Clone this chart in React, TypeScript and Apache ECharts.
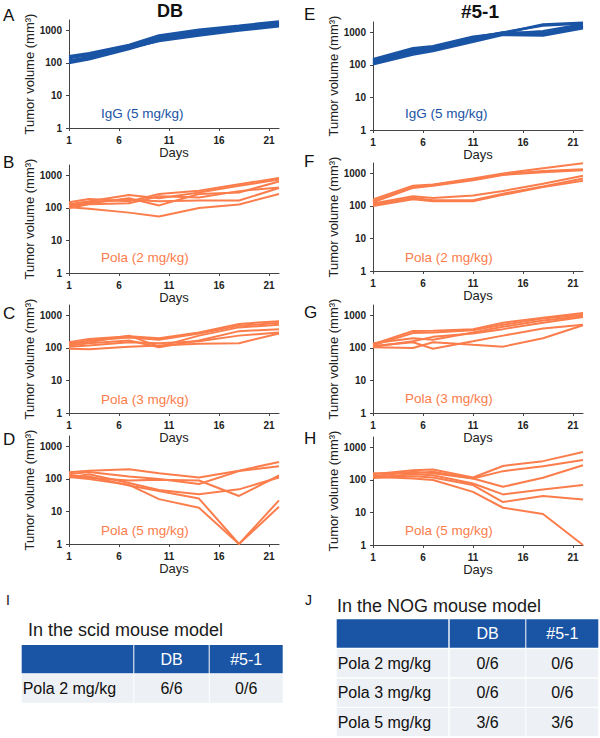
import React, { useEffect, useRef } from "react";
import * as echarts from "echarts";

// Measurement days for each clone
const DAYS_DB = [1, 3, 7, 10, 14, 18, 22];
const DAYS_51 = [1, 5, 7, 11, 14, 18, 22];

const X_TICKS = [1, 6, 11, 16, 21];
const Y_TICKS = [1, 10, 100, 1000];

// Tumor volumes (mm³), one row per mouse
const DB_IGG = [
  [160, 200, 360, 700, 1050, 1400, 1900],
  [140, 185, 330, 620, 1000, 1300, 1750],
  [120, 150, 300, 560, 880, 1200, 1600],
  [100, 130, 270, 500, 780, 1100, 1450],
  [110, 135, 290, 470, 700, 1000, 1350],
  [150, 170, 320, 600, 1000, 1250, 1650],
];
const DB_POLA2 = [
  [150, 190, 160, 270, 340, 540, 830],
  [130, 160, 250, 200, 300, 480, 750],
  [110, 140, 200, 120, 270, 300, 650],
  [100, 130, 140, 230, 210, 330, 430],
  [120, 150, 180, 160, 170, 170, 410],
  [105, 95, 72, 55, 100, 128, 270],
];
const DB_POLA3 = [
  [150, 190, 230, 200, 300, 550, 670],
  [130, 170, 210, 180, 280, 480, 600],
  [140, 150, 240, 110, 240, 430, 520],
  [120, 140, 170, 105, 170, 330, 380],
  [110, 120, 150, 140, 160, 240, 300],
  [95, 92, 110, 120, 135, 140, 280],
];
const DB_POLA5 = [
  [160, 180, 200, 150, 111, 180, 335],
  [140, 163, 120, 100, 70, 175, 245],
  [120, 110, 90, 95, 90, 30, 128],
  [110, 140, 75, 46, 34, 48, 111],
  [125, 120, 63, 43, 25, 1, 22],
  [115, 99, 66, 24, 13, 1, 14],
];
const C51_IGG = [
  [150, 330, 380, 740, 950, 1750, 2000],
  [130, 300, 360, 700, 1000, 1650, 1900],
  [120, 270, 330, 620, 900, 1100, 1800],
  [110, 240, 290, 560, 900, 850, 1500],
  [105, 210, 270, 520, 850, 800, 1350],
  [140, 280, 340, 650, 1000, 950, 1600],
];
const C51_POLA2 = [
  [160, 420, 460, 700, 1000, 1450, 2050],
  [140, 380, 440, 650, 950, 1200, 1350],
  [130, 360, 420, 620, 900, 1100, 1250],
  [120, 200, 175, 210, 290, 480, 850],
  [110, 180, 150, 150, 240, 400, 700],
  [100, 160, 140, 140, 220, 380, 600],
];
const C51_POLA3 = [
  [130, 335, 340, 380, 600, 850, 1200],
  [120, 290, 300, 350, 520, 800, 1050],
  [140, 200, 180, 300, 450, 700, 950],
  [110, 160, 220, 280, 380, 600, 900],
  [115, 150, 95, 160, 240, 400, 520],
  [105, 100, 150, 125, 110, 200, 500],
];
const C51_POLA5 = [
  [150, 200, 210, 119, 270, 380, 730],
  [130, 180, 160, 111, 187, 265, 410],
  [160, 160, 180, 111, 62, 117, 285],
  [120, 150, 140, 78, 36, 51, 70],
  [115, 130, 120, 70, 21, 32, 25],
  [125, 111, 100, 43, 14, 9, 1],
];

const TREATMENTS = ["IgG (5 mg/kg)", "Pola (2 mg/kg)", "Pola (3 mg/kg)", "Pola (5 mg/kg)"];
const PANEL_LETTERS = ["A", "B", "C", "D", "E", "F", "G", "H"];
const CLONES = ["DB", "#5-1"];

// Complete response tables
const SCID_HEADER = ["", "DB", "#5-1"];
const SCID_ROWS = [["Pola 2 mg/kg", "6/6", "0/6"]];
const NOG_HEADER = ["", "DB", "#5-1"];
const NOG_ROWS = [
  ["Pola 2 mg/kg", "0/6", "0/6"],
  ["Pola 3 mg/kg", "0/6", "0/6"],
  ["Pola 5 mg/kg", "3/6", "3/6"],
];

const BLUE = "#1a54a4";
const ORANGE = "#fb7d4c";
const FONT = "Liberation Sans, Arial, sans-serif";

export default function App() {
  const ref = useRef<HTMLDivElement>(null);

  useEffect(() => {
    if (!ref.current) return;
    const chart = echarts.init(ref.current, null, { renderer: "svg" });

    const panels = [
      { days: DAYS_DB, lines: DB_IGG, treat: 0 },
      { days: DAYS_DB, lines: DB_POLA2, treat: 1 },
      { days: DAYS_DB, lines: DB_POLA3, treat: 2 },
      { days: DAYS_DB, lines: DB_POLA5, treat: 3 },
      { days: DAYS_51, lines: C51_IGG, treat: 0 },
      { days: DAYS_51, lines: C51_POLA2, treat: 1 },
      { days: DAYS_51, lines: C51_POLA3, treat: 2 },
      { days: DAYS_51, lines: C51_POLA5, treat: 3 },
    ];

    // grid placement of the eight small plots
    const layout = [
      { left: 69, top: 20, letterY: 15, treatY: 113 },
      { left: 69, top: 165, letterY: 162, treatY: 257 },
      { left: 69, top: 305, letterY: 313, treatY: 399 },
      { left: 69, top: 436, letterY: 439, treatY: 530 },
      { left: 373, top: 22, letterY: 14, treatY: 113 },
      { left: 373, top: 163, letterY: 161, treatY: 257 },
      { left: 373, top: 305, letterY: 312, treatY: 398 },
      { left: 373, top: 437, letterY: 438, treatY: 530 },
    ];
    const GW = 210;
    const GH = 108;

    const grids: any[] = [];
    const xAxes: any[] = [];
    const yAxes: any[] = [];
    const series: any[] = [];
    const graphics: any[] = [];

    const plain = (v: number) => String(Math.round(v));

    panels.forEach((p, i) => {
      const L = layout[i];
      const color = p.treat === 0 ? BLUE : ORANGE;
      grids.push({
        left: L.left,
        top: L.top,
        width: GW,
        height: GH,
        containLabel: false,
        outerBoundsMode: "none",
      });
      xAxes.push({
        type: "value",
        gridIndex: i,
        min: 1,
        max: 22,
        name: "Days",
        nameLocation: "middle",
        nameGap: 14,
        nameTextStyle: { fontSize: 13, color: "#222", fontFamily: FONT },
        axisLine: { show: true, lineStyle: { color: "#444", width: 1 } },
        axisTick: { show: true, length: 3, customValues: X_TICKS, lineStyle: { color: "#444" } },
        axisLabel: {
          customValues: X_TICKS,
          formatter: plain,
          fontSize: 10,
          fontWeight: "bold",
          color: "#222",
          fontFamily: FONT,
          margin: 7,
        },
        splitLine: { show: false },
      });
      yAxes.push({
        type: "log",
        logBase: 10,
        gridIndex: i,
        min: 1,
        max: 2100,
        name: "Tumor volume (mm³)",
        nameLocation: "middle",
        nameGap: 33,
        nameTextStyle: { fontSize: 13, color: "#222", fontFamily: FONT },
        axisLine: { show: true, lineStyle: { color: "#444", width: 1 } },
        axisTick: { show: true, length: 3, customValues: Y_TICKS, lineStyle: { color: "#444" } },
        axisLabel: {
          customValues: Y_TICKS,
          formatter: plain,
          fontSize: 10,
          fontWeight: "bold",
          color: "#222",
          fontFamily: FONT,
          margin: 7,
        },
        splitLine: { show: false },
      });
      p.lines.forEach((vals) => {
        series.push({
          type: "line",
          xAxisIndex: i,
          yAxisIndex: i,
          data: p.days.map((d, k) => [d, vals[k]]),
          symbol: "none",
          lineStyle: { color, width: p.treat === 0 ? 2.5 : 2 },
          itemStyle: { color },
          silent: true,
        });
      });
      graphics.push({
        type: "text",
        x: L.left === 69 ? 3 : 304,
        y: L.letterY,
        style: {
          text: PANEL_LETTERS[i],
          fontSize: 17,
          fontFamily: FONT,
          fill: "#111",
          align: "left",
          verticalAlign: "middle",
        },
      });
      graphics.push({
        type: "text",
        x: L.left + 32,
        y: L.treatY,
        style: {
          text: TREATMENTS[p.treat],
          fontSize: 13.5,
          fontFamily: FONT,
          fill: color,
          align: "left",
          verticalAlign: "middle",
        },
      });
    });

    // column titles
    graphics.push({
      type: "text",
      x: 170,
      y: 11,
      style: { text: CLONES[0], fontSize: 18, fontWeight: "bold", fontFamily: FONT, fill: "#111", align: "center", verticalAlign: "middle" },
    });
    graphics.push({
      type: "text",
      x: 480,
      y: 11,
      style: { text: CLONES[1], fontSize: 19, fontWeight: "bold", fontFamily: FONT, fill: "#111", align: "center", verticalAlign: "middle" },
    });

    // tables
    const addTable = (
      letter: string,
      letterX: number,
      title: string,
      titleX: number,
      titleY: number,
      header: string[],
      rows: string[][],
      cols: number[][],
      rowYs: number[][],
    ) => {
      graphics.push({
        type: "text",
        x: letterX,
        y: 600,
        style: { text: letter, fontSize: 14, fontFamily: FONT, fill: "#111", align: "left", verticalAlign: "middle" },
      });
      graphics.push({
        type: "text",
        x: titleX,
        y: titleY,
        style: { text: title, fontSize: 18, fontFamily: FONT, fill: "#1a1a1a", align: "left", verticalAlign: "middle" },
      });
      const allRows = [header, ...rows];
      allRows.forEach((row, r) => {
        const [y0, y1] = rowYs[r];
        cols.forEach(([x0, x1], c) => {
          graphics.push({
            type: "rect",
            shape: { x: x0, y: y0, width: x1 - x0, height: y1 - y0 },
            style: { fill: r === 0 ? "#1a55a5" : "#edf0f4" },
          });
          const txt = row[c];
          if (!txt) return;
          graphics.push({
            type: "text",
            x: c === 0 ? x0 + 1 : (x0 + x1) / 2,
            y: (y0 + y1) / 2,
            style: {
              text: txt,
              fontSize: 16,
              fontFamily: FONT,
              fill: r === 0 ? "#ffffff" : "#111",
              align: c === 0 ? "left" : "center",
              verticalAlign: "middle",
            },
          });
        });
      });
    };

    addTable(
      "I",
      6,
      "In the scid mouse model",
      28,
      630,
      SCID_HEADER,
      SCID_ROWS,
      [
        [21.7, 133.3],
        [134.3, 208.7],
        [209.7, 282.7],
      ],
      [
        [645, 673.3],
        [674.3, 702.7],
      ],
    );
    addTable(
      "J",
      305,
      "In the NOG mouse model",
      337,
      606,
      NOG_HEADER,
      NOG_ROWS,
      [
        [336.7, 448.3],
        [449.7, 525.3],
        [526.3, 598.3],
      ],
      [
        [619.3, 647.7],
        [649.3, 677.3],
        [678.7, 706.7],
        [708, 736],
      ],
    );

    chart.setOption({
      animation: false,
      backgroundColor: "#ffffff",
      grid: grids,
      xAxis: xAxes,
      yAxis: yAxes,
      series,
      graphic: graphics,
    });

    return () => {
      chart.dispose();
    };
  }, []);

  return (
    <div
      ref={ref}
      style={{ position: "fixed", left: 0, top: 0, width: 600, height: 738 }}
    />
  );
}
